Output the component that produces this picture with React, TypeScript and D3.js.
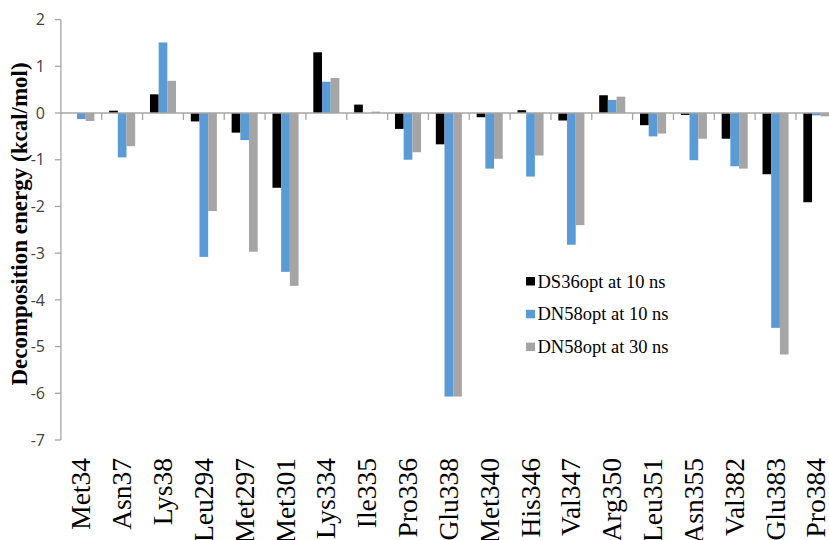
import React from "react";
import * as d3 from "d3";

// Residues along the x axis
const residues = [
  "Met34", "Asn37", "Lys38", "Leu294", "Met297", "Met301", "Lys334", "Ile335",
  "Pro336", "Glu338", "Met340", "His346", "Val347", "Arg350", "Leu351",
  "Asn355", "Val382", "Glu383", "Pro384",
];

// Per-residue decomposition energies (kcal/mol)
const ds36At10 = [
  0.0, 0.05, 0.4, -0.18, -0.42, -1.6, 1.3, 0.18, -0.34, -0.67, -0.09, 0.06,
  -0.16, 0.38, -0.26, -0.04, -0.55, -1.31, -1.91,
];
const dn58At10 = [
  -0.13, -0.95, 1.51, -3.08, -0.58, -3.4, 0.67, 0.0, -1.0, -6.07, -1.19, -1.36,
  -2.82, 0.28, -0.5, -1.01, -1.14, -4.6, -0.05,
];
const dn58At30 = [
  -0.17, -0.71, 0.69, -2.1, -2.97, -3.7, 0.75, 0.03, -0.84, -6.07, -0.98, -0.91,
  -2.4, 0.35, -0.44, -0.55, -1.19, -5.17, -0.07,
];

const seriesNames = ["DS36opt at 10 ns", "DN58opt at 10 ns", "DN58opt at 30 ns"];
const seriesColors = ["#000000", "#5b9bd5", "#a5a5a5"];
const yTicks = [2, 1, 0, -1, -2, -3, -4, -5, -6, -7];

const W = 829;
const H = 540;
const SERIF = "'Liberation Serif', 'Times New Roman', serif";

export default function App() {
  const seriesValues = [ds36At10, dn58At10, dn58At30];

  const x = d3.scaleBand<string>().domain(residues).range([60.9, 836.8]).paddingInner(0).paddingOuter(0);
  const x1 = d3
    .scaleBand<number>()
    .domain([0, 1, 2])
    .range([0, x.bandwidth()])
    .paddingInner(0)
    .paddingOuter(0.85);
  const y = d3.scaleLinear().domain([-7, 2]).range([440, 19.6]);

  const axisColor = "#a6a6a6";
  const x0 = x.range()[0];

  return (
    <svg
      width={W}
      height={H}
      style={{ position: "absolute", left: 0, top: 0, background: "#fff" }}
      fontFamily={SERIF}
    >
      <rect width={W} height={H} fill="#fff" />

      {/* bars */}
      {seriesValues.map((vals, si) => (
        <g key={si} fill={seriesColors[si]}>
          {vals.map((v, i) => {
            const bx = (x(residues[i]) ?? 0) + (x1(si) ?? 0);
            const top = y(Math.max(0, v));
            const bottom = y(Math.min(0, v));
            return (
              <rect key={i} x={bx} y={top} width={x1.bandwidth()} height={Math.max(0, bottom - top)} />
            );
          })}
        </g>
      ))}

      {/* zero line and category ticks */}
      <line x1={x0} x2={W} y1={y(0)} y2={y(0)} stroke={axisColor} strokeWidth={1.3} />
      {residues.slice(1).map((r) => (
        <line
          key={r}
          x1={x(r)}
          x2={x(r)}
          y1={y(0)}
          y2={y(0) + 7}
          stroke={axisColor}
          strokeWidth={1.3}
        />
      ))}

      {/* y axis */}
      <line x1={x0} x2={x0} y1={y(2)} y2={y(-7)} stroke={axisColor} strokeWidth={1.3} />
      {yTicks.map((t) => (
        <g key={t}>
          <line x1={x0 - 6} x2={x0} y1={y(t)} y2={y(t)} stroke={axisColor} strokeWidth={1.3} />
          <text
            x={45}
            y={y(t)}
            dy="0.36em"
            textAnchor="end"
            fontFamily="'Open Sans', 'Noto Sans', sans-serif"
            fontSize={16}
            fill="#404040"
          >
            {t}
          </text>
        </g>
      ))}

      {/* y axis title */}
      <text
        transform={`translate(27, 224) rotate(-90)`}
        textAnchor="middle"
        fontFamily={SERIF}
        fontWeight="bold"
        fontSize={23}
        fill="#000"
      >
        Decomposition energy (kcal/mol)
      </text>

      {/* category labels */}
      {residues.map((r) => {
        const cx = (x(r) ?? 0) + x.bandwidth() / 2;
        return (
          <text
            key={r}
            transform={`translate(${cx + 9}, 458) rotate(-90)`}
            textAnchor="end"
            fontFamily={SERIF}
            fontSize={27.5}
            fill="#000"
          >
            {r}
          </text>
        );
      })}

      {/* legend */}
      {seriesNames.map((name, i) => {
        const baseline = 287.5 + i * 32.8;
        return (
          <g key={name}>
            <rect x={526} y={baseline - 10.5} width={9} height={8.5} fill={seriesColors[i]} />
            <text x={537.5} y={baseline} fontFamily={SERIF} fontSize={18.5} fill="#000">
              {name}
            </text>
          </g>
        );
      })}
    </svg>
  );
}
